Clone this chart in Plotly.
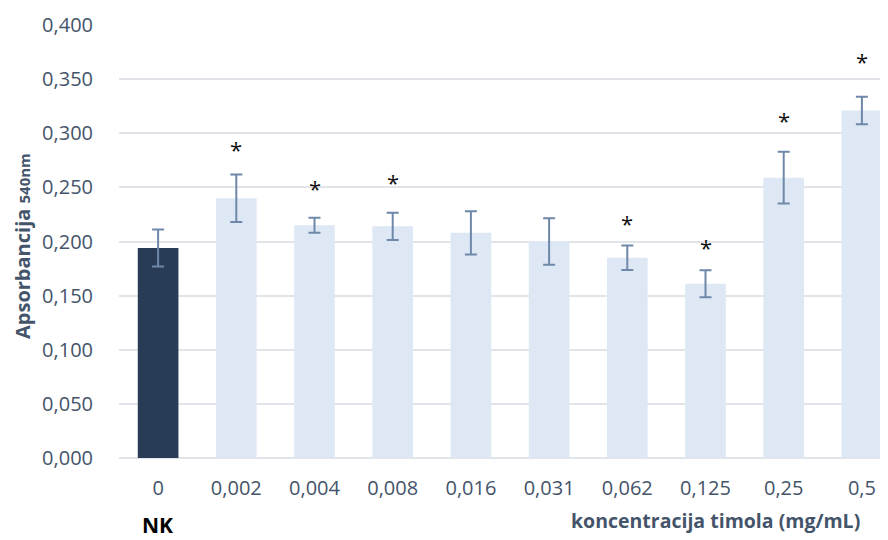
import plotly.graph_objects as go

categories = ["0", "0,002", "0,004", "0,008", "0,016", "0,031", "0,062", "0,125", "0,25", "0,5"]
absorbance = [0.194, 0.240, 0.215, 0.214, 0.208, 0.200, 0.185, 0.161, 0.259, 0.321]
error = [0.017, 0.022, 0.007, 0.0126, 0.020, 0.0214, 0.0114, 0.0124, 0.024, 0.0127]
star_categories = ["0,002", "0,004", "0,008", "0,062", "0,125", "0,25", "0,5"]
star_y = [0.289, 0.253, 0.2587, 0.2208, 0.199, 0.316, 0.370]
y_ticks = [0.0, 0.05, 0.10, 0.15, 0.20, 0.25, 0.30, 0.35, 0.40]
y_tick_labels = ["0,000", "0,050", "0,100", "0,150", "0,200", "0,250", "0,300", "0,350", "0,400"]

DARK = "#283D55"
LIGHT = "#DDE8F4"
ERR = "#6F88AA"
TXT = "#44546A"
GRID = "#E1E5EA"
FONT = "Open Sans"

colors = [DARK] + [LIGHT] * (len(categories) - 1)

# page body has an 8px margin: figure drawn 8px smaller and all pixel targets shifted by 8
OFF = 8
W, H = 888 - OFF, 540 - OFF
L, R, T, B = 119 - OFF, 0, 25 - OFF, 82
pw = W - L - R
ph = H - T - B

fig = go.Figure()
fig.add_trace(go.Bar(
    x=categories, y=absorbance, width=0.52,
    marker=dict(color=colors, line=dict(width=0)),
    error_y=dict(type="data", array=error, visible=True, color=ERR, thickness=2, width=6),
    showlegend=False, hoverinfo="skip",
))

for c, yv in zip(star_categories, star_y):
    fig.add_annotation(
        x=c, y=yv, text="*", showarrow=False, xanchor="center", yanchor="middle", yshift=-4,
        font=dict(family=FONT, size=22, color="#111111"),
    )

fig.update_layout(
    width=W, height=H,
    margin=dict(l=L, r=R, t=T, b=B, pad=0),
    plot_bgcolor="white", paper_bgcolor="white",
    font=dict(family=FONT, color=TXT, size=20),
    xaxis=dict(
        type="category", range=[-0.5, -0.5 + pw / 78.2],
        showgrid=False, showline=False, zeroline=False,
        ticks="outside", ticklen=12, tickcolor="rgba(0,0,0,0)",
        tickfont=dict(family=FONT, size=20, color=TXT),
    ),
    yaxis=dict(
        range=[0, 0.4], tickvals=y_ticks, ticktext=y_tick_labels,
        showgrid=True, gridcolor=GRID, gridwidth=2,
        zeroline=True, zerolinecolor=GRID, zerolinewidth=2,
        showline=False,
        ticks="outside", ticklen=21, tickcolor="rgba(0,0,0,0)",
        tickfont=dict(family=FONT, size=20, color=TXT),
    ),
)

def px_x(x):
    return (x - OFF - L) / pw

def px_y(y):
    return 1 - (y - OFF - T) / ph

fig.add_annotation(
    xref="paper", yref="paper", x=px_x(22), y=px_y(246), xanchor="center", yanchor="middle",
    textangle=-90, showarrow=False,
    text="<b>Apsorbancija <span style='font-size:15px'>540nm</span></b>",
    font=dict(family=FONT, size=20, color=TXT),
)
fig.add_annotation(
    xref="paper", yref="paper", x=px_x(715), y=px_y(520),
    xanchor="center", yanchor="middle", showarrow=False,
    text="<b>koncentracija timola (mg/mL)</b>",
    font=dict(family=FONT, size=19.5, color=TXT),
)
fig.add_annotation(
    xref="paper", yref="paper", x=px_x(157), y=px_y(525),
    xanchor="center", yanchor="middle", showarrow=False,
    text="<b>NK</b>",
    font=dict(family=FONT, size=21, color="#000000"),
)

fig.write_html("out.html")
